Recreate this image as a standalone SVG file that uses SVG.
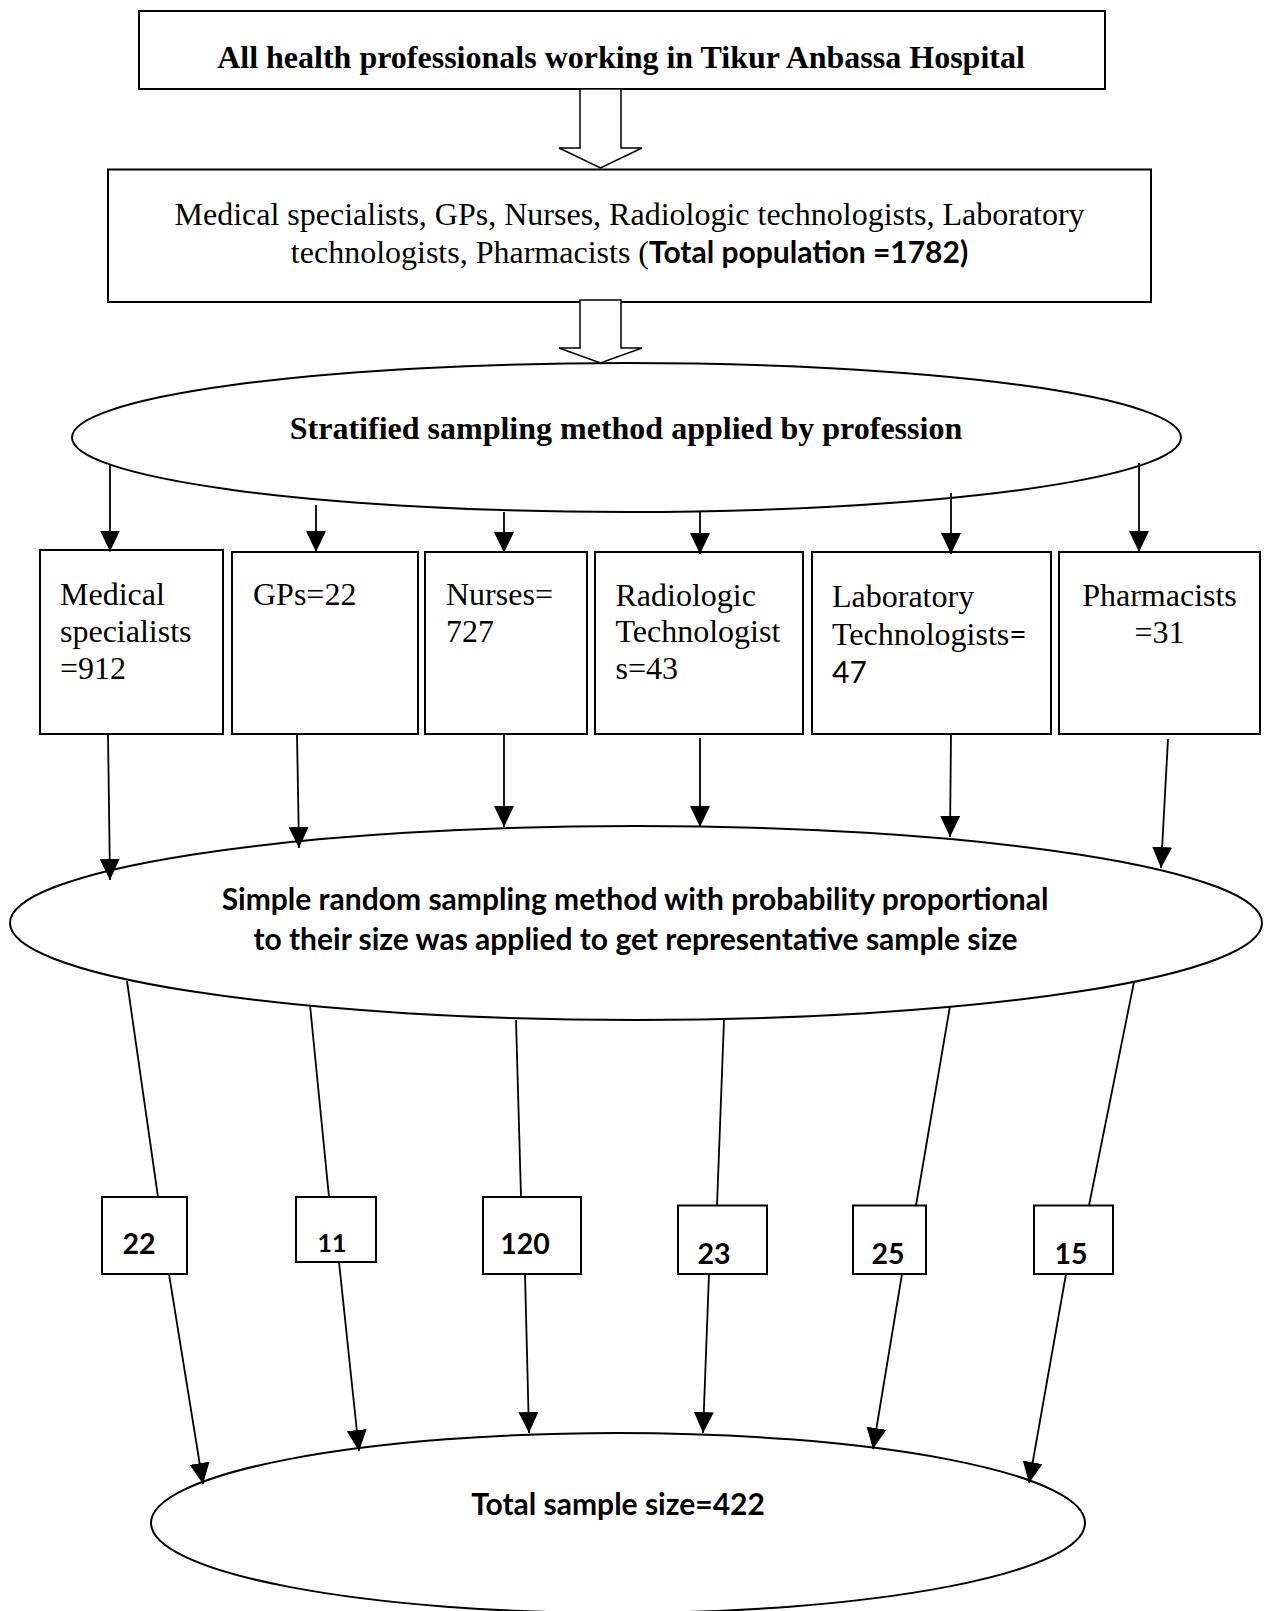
<svg xmlns="http://www.w3.org/2000/svg" width="1268" height="1611" viewBox="0 0 1268 1611">
<style>
.box{fill:#fff;stroke:#000;stroke-width:2}
.ell{fill:#fff;stroke:#000;stroke-width:2}
.ln{fill:none;stroke:#000;stroke-width:1.8}
.hol{fill:#fff;stroke:#000;stroke-width:1.5;stroke-linejoin:miter}
.tr{font-family:"Liberation Serif","Times New Roman",serif;font-size:32px;fill:#000}
.tb{font-family:"Liberation Serif","Times New Roman",serif;font-size:32px;font-weight:bold;fill:#000}
.cb{font-family:Lato,"Liberation Sans",sans-serif;font-size:30px;font-weight:bold;fill:#000}
.cr{font-family:Lato,"Liberation Sans",sans-serif;font-size:30px;fill:#000}
.num{font-family:Lato,"Liberation Sans",sans-serif;font-size:28.5px;font-weight:bold;fill:#000;text-anchor:middle}
.mid{text-anchor:middle}
</style>
<defs>
<marker id="ah" viewBox="0 0 21 20" refX="21" refY="10" markerWidth="21" markerHeight="20" markerUnits="userSpaceOnUse" orient="auto">
<path d="M0,0 L21,10 L0,20 z" fill="#000"/>
</marker>
</defs>
<rect width="1268" height="1611" fill="#fff"/>

<g id="node-all">
<rect class="box" x="139" y="11" width="966" height="78"/>
<text class="tb mid" x="621" y="68">All health professionals working in Tikur Anbassa Hospital</text>
</g>

<g id="node-population">
<rect class="box" x="108" y="169.5" width="1043" height="132.5"/>
<text class="tr mid" x="629.5" y="225">Medical specialists, GPs, Nurses, Radiologic technologists, Laboratory</text>
<text class="tr mid" x="629.5" y="263">technologists, Pharmacists (<tspan class="cb">Total population =1782)</tspan></text>
</g>

<g id="node-stratified">
<ellipse class="ell" cx="626.5" cy="437.5" rx="554.5" ry="74.5"/>
<text class="tb mid" x="626" y="439">Stratified sampling method applied by profession</text>
</g>

<g id="node-medical">
<rect class="box" x="40" y="550" width="183" height="184"/>
<text class="tr" x="60" y="605">Medical</text>
<text class="tr" x="60" y="642">specialists</text>
<text class="tr" x="60" y="679">=912</text>
</g>
<g id="node-gps">
<rect class="box" x="232" y="552" width="186" height="182"/>
<text class="tr" x="253" y="605">GPs=22</text>
</g>
<g id="node-nurses">
<rect class="box" x="425" y="552" width="162" height="182"/>
<text class="tr" x="446" y="605">Nurses=</text>
<text class="tr" x="446" y="642">727</text>
</g>
<g id="node-radiologic">
<rect class="box" x="595" y="552" width="208" height="182"/>
<text class="tr" x="615.5" y="606">Radiologic</text>
<text class="tr" x="615.5" y="642">Technologist</text>
<text class="tr" x="615.5" y="679">s=43</text>
</g>
<g id="node-laboratory">
<rect class="box" x="812" y="552" width="239" height="182"/>
<text class="tr" x="832" y="607">Laboratory</text>
<text class="tr" x="832" y="645">Technologists<tspan class="cr">=</tspan></text>
<text class="cr" x="832" y="683">47</text>
</g>
<g id="node-pharmacists">
<rect class="box" x="1059" y="552" width="201" height="182"/>
<text class="tr mid" x="1159.5" y="606">Pharmacists</text>
<text class="tr mid" x="1159.5" y="643">=31</text>
</g>

<g id="node-srs">
<ellipse class="ell" cx="636" cy="923" rx="626" ry="97"/>
<text class="cb mid" x="635" y="910">Simple random sampling method with probability proportional</text>
<text class="cb mid" x="635.5" y="950">to their size was applied to get representative sample size</text>
</g>

<g id="node-n22">
<rect class="box" x="102" y="1197" width="85" height="77"/>
<text class="num" x="139" y="1254">22</text>
</g>
<g id="node-n11">
<rect class="box" x="296" y="1197" width="80" height="65"/>
<text class="num" x="332" y="1252" style="font-size:25px">11</text>
</g>
<g id="node-n120">
<rect class="box" x="483" y="1197" width="98" height="77"/>
<text class="num" x="525" y="1254">120</text>
</g>
<g id="node-n23">
<rect class="box" x="678" y="1205.5" width="89" height="68.5"/>
<text class="num" x="714" y="1264">23</text>
</g>
<g id="node-n25">
<rect class="box" x="853" y="1205.5" width="73" height="68.5"/>
<text class="num" x="888" y="1264">25</text>
</g>
<g id="node-n15">
<rect class="box" x="1034" y="1205.5" width="79" height="68.5"/>
<text class="num" x="1071" y="1264">15</text>
</g>

<g id="node-total">
<ellipse class="ell" cx="618" cy="1523" rx="467" ry="90"/>
<text class="cb mid" x="618" y="1515">Total sample size=422</text>
</g>

<g id="connectors">
<polygon class="hol" points="580,89 621,89 621,148 642,148 600.5,168 559,148 580,148"/>
<polygon class="hol" points="580,300 621,300 621,348 642,348 600.5,363 559,348 580,348"/>

<line class="ln" x1="110" y1="465" x2="110" y2="551.5" marker-end="url(#ah)"/>
<line class="ln" x1="316" y1="505" x2="316" y2="552" marker-end="url(#ah)"/>
<line class="ln" x1="504" y1="512" x2="504" y2="553" marker-end="url(#ah)"/>
<line class="ln" x1="700" y1="512" x2="700" y2="554" marker-end="url(#ah)"/>
<line class="ln" x1="951" y1="493" x2="951" y2="554" marker-end="url(#ah)"/>
<line class="ln" x1="1139" y1="463" x2="1139" y2="552" marker-end="url(#ah)"/>

<line class="ln" x1="108" y1="734" x2="110" y2="880" marker-end="url(#ah)"/>
<line class="ln" x1="297" y1="734" x2="299" y2="848" marker-end="url(#ah)"/>
<line class="ln" x1="504" y1="734" x2="504" y2="827" marker-end="url(#ah)"/>
<line class="ln" x1="700" y1="738" x2="700" y2="827" marker-end="url(#ah)"/>
<line class="ln" x1="951" y1="734" x2="950" y2="837" marker-end="url(#ah)"/>
<line class="ln" x1="1168" y1="739" x2="1161" y2="868" marker-end="url(#ah)"/>

<line class="ln" x1="127" y1="981" x2="158" y2="1197"/>
<line class="ln" x1="310" y1="1005" x2="329" y2="1197"/>
<line class="ln" x1="516" y1="1020" x2="521" y2="1197"/>
<line class="ln" x1="724" y1="1020" x2="717" y2="1205.5"/>
<line class="ln" x1="950" y1="1006" x2="916" y2="1205.5"/>
<line class="ln" x1="1134" y1="982" x2="1089" y2="1205.5"/>

<line class="ln" x1="169" y1="1274" x2="203" y2="1484" marker-end="url(#ah)"/>
<line class="ln" x1="339" y1="1262" x2="359" y2="1451" marker-end="url(#ah)"/>
<line class="ln" x1="525" y1="1274" x2="529" y2="1433" marker-end="url(#ah)"/>
<line class="ln" x1="709" y1="1274" x2="703" y2="1433" marker-end="url(#ah)"/>
<line class="ln" x1="902" y1="1274" x2="873" y2="1449" marker-end="url(#ah)"/>
<line class="ln" x1="1066" y1="1274" x2="1029" y2="1483" marker-end="url(#ah)"/>
</g>
</svg>
